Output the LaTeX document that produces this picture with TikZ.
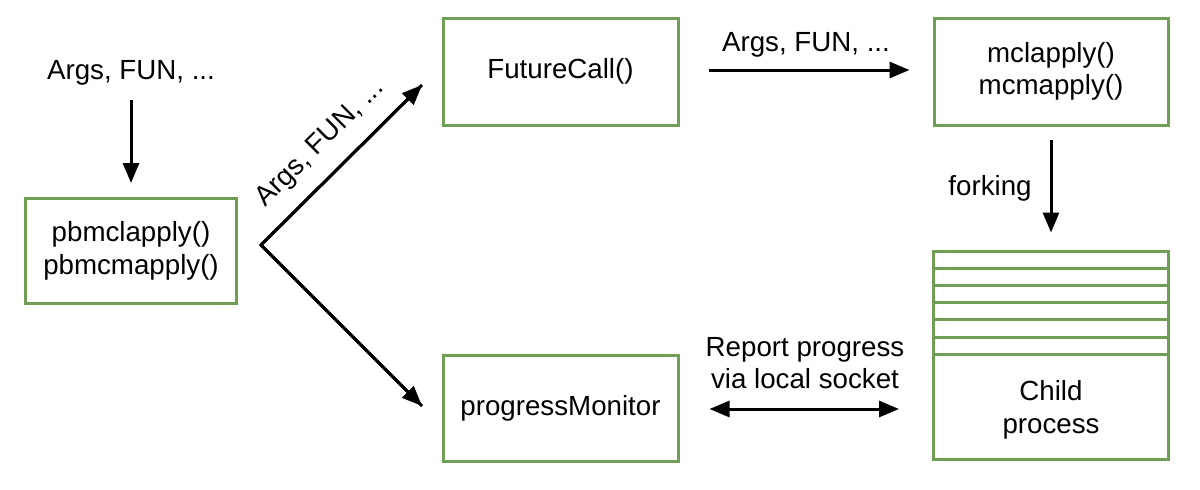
\documentclass[tikz,border=0pt]{standalone}
\usepackage{fontspec}
\setmainfont{Liberation Sans}
\usetikzlibrary{arrows.meta}
\definecolor{boxgreen}{RGB}{112,158,84}
\tikzset{
  box/.style={draw=boxgreen, line width=3pt, rectangle, align=center, inner sep=0pt},
  lbl/.style={inner sep=0pt, align=center},
  arr/.style={line width=3pt, -{Triangle[length=20pt,width=16pt]}},
  darr/.style={line width=3pt, {Triangle[length=20pt,width=16pt]}-{Triangle[length=20pt,width=16pt]}},
}
\begin{document}
\begin{tikzpicture}[x=1pt,y=-1pt,font=\fontsize{27.7}{32.5}\selectfont]
\useasboundingbox (0,0) rectangle (1200,490);
% boxes
\node[box, minimum width=211pt, minimum height=105pt] (pb) at (131,251) {pbmclapply()\\pbmcmapply()};
\node[box, minimum width=235pt, minimum height=107pt] (fc) at (560.5,71.5) {FutureCall()};
\node[box, minimum width=234pt, minimum height=107pt] (mc) at (1051,71.5) {mclapply()\\mcmapply()};
\node[box, minimum width=235pt, minimum height=106pt] (pm) at (560.5,408) {progressMonitor};
\node[box, minimum width=235pt, minimum height=208pt] (cp) at (1051,355) {};
\foreach \yy in {268.2,285.4,302.6,319.8,337,354.2}
  \draw[boxgreen, line width=3pt] (cp.west |- 0,\yy) -- (cp.east |- 0,\yy);
\node[lbl] (cpt) at (1051,410) {Child\\process};
% labels
\node[lbl] (t1) at (131,73) {Args, FUN, ...};
\node[lbl] (t2) at (806,45) {Args, FUN, ...};
\node[lbl] (t3) at (990,188) {forking};
\node[lbl] (t4) at (805,363) {Report progress\\via local socket};
% connectors
\draw[arr, shorten <=14pt, shorten >=14pt] (t1.south) -- (pb.north);
\coordinate (fork) at (261,245);
\coordinate (fcin) at (422,85);
\coordinate (pmin) at (422,406);
\draw[line width=3pt, line join=miter] (fcin) -- (fork) -- (pmin);
\draw[arr] (fork) -- (fcin) node[midway, sloped, above=16pt, lbl] {Args, FUN, ...};
\draw[arr] (fork) -- (pmin);
\draw[arr, shorten <=29pt, shorten >=23pt] (fc.east |- 0,70) -- (mc.west |- 0,70);
\draw[arr, shorten <=13pt, shorten >=17pt] (mc.south) -- (cp.north);
\draw[darr, shorten <=30pt, shorten >=33pt] (pm.east |- 0,409) -- (cp.west |- 0,409);
\end{tikzpicture}
\end{document}
